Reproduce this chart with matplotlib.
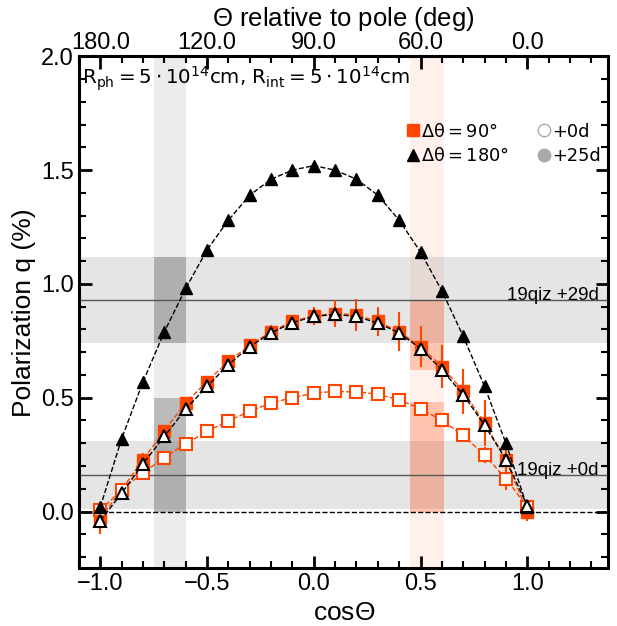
import numpy as np
import matplotlib
matplotlib.use('Agg')
import matplotlib.pyplot as plt
from matplotlib.lines import Line2D
from matplotlib.ticker import MultipleLocator

plt.rcParams['font.family'] = ['Liberation Sans', 'DejaVu Sans']
plt.rcParams['mathtext.fontset'] = 'dejavusans'
plt.rcParams['mathtext.default'] = 'regular'

# Dane
cos_theta = np.round(np.arange(-1.0, 1.01, 0.1), 1)

# dtheta = 180 deg, +25d (triunghiuri pline)
q_180_25 = [0.02, 0.32, 0.57, 0.79, 0.98, 1.15, 1.28, 1.39, 1.46, 1.50, 1.52,
            1.50, 1.46, 1.39, 1.28, 1.14, 0.97, 0.77, 0.55, 0.30, 0.02]
# dtheta = 180 deg, +0d (triunghiuri goale)
q_180_0 = [-0.04, 0.08, 0.21, 0.33, 0.45, 0.55, 0.645, 0.725, 0.785, 0.83, 0.857,
           0.866, 0.857, 0.828, 0.785, 0.716, 0.623, 0.513, 0.38, 0.228, 0.026]
# dtheta = 90 deg, +25d (patrate pline)
q_90_25 = [-0.03, 0.096, 0.228, 0.355, 0.478, 0.571, 0.66, 0.73, 0.79, 0.835, 0.86,
           0.87, 0.864, 0.835, 0.79, 0.725, 0.637, 0.528, 0.389, 0.228, 0.0]
err_90_25 = [0.07, 0.03, 0.03, 0.02, 0.02, 0.02, 0.02, 0.02, 0.03, 0.03, 0.04,
             0.06, 0.07, 0.065, 0.085, 0.09, 0.095, 0.1, 0.1, 0.06, 0.04]
# dtheta = 90 deg, +0d (patrate goale)
q_90_0 = [0.005, 0.096, 0.17, 0.237, 0.298, 0.352, 0.399, 0.44, 0.477, 0.50, 0.52,
          0.528, 0.525, 0.516, 0.49, 0.452, 0.40, 0.335, 0.247, 0.145, 0.02]
err_90_0 = [0.02, 0.02, 0.02, 0.01, 0.01, 0.01, 0.01, 0.01, 0.01, 0.01, 0.01,
            0.01, 0.01, 0.01, 0.01, 0.015, 0.015, 0.03, 0.035, 0.05, 0.03]

# Observatii 19qiz
obs_labels = ['19qiz +0d', '19qiz +29d']
obs_q = [0.16, 0.93]
obs_err = [0.15, 0.19]

# Benzi unghiulare
grey_band = (-0.75, -0.6)
grey_boxes = [(0.74, 1.12), (0.0, 0.5)]
red_band = (0.45, 0.61)
red_boxes = [(0.62, 0.93), (0.0, 0.48)]

top_ticks = [-1.0, -0.5, 0.0, 0.5, 1.0]
top_labels = ['180.0', '120.0', '90.0', '60.0', '0.0']

ORANGE = '#ff4500'

fig = plt.figure(figsize=(6.17, 6.26), dpi=100)
ax = fig.add_axes([0.128, 0.092, 0.858, 0.818])

# Benzi
ax.axvspan(*grey_band, color='grey', alpha=0.15, lw=0, zorder=0)
for lo, hi in grey_boxes:
    ax.fill_between(grey_band, lo, hi, color='grey', alpha=0.45, lw=0, zorder=0.5)
ax.axvspan(*red_band, color=ORANGE, alpha=0.08, lw=0, zorder=0)
for lo, hi in red_boxes:
    ax.fill_between(red_band, lo, hi, color=ORANGE, alpha=0.25, lw=0, zorder=0.5)

for lab, q, e in zip(obs_labels, obs_q, obs_err):
    ax.axhspan(q - e, q + e, color='grey', alpha=0.2, lw=0, zorder=0)
    ax.axhline(q, color='#555555', lw=1.0, zorder=0.6)
    ax.text(1.335, q, lab, ha='right', va='baseline', fontsize=13.5, zorder=5)

ax.axhline(0.0, color='black', ls='--', lw=1.0, zorder=1)

# Serii
ax.errorbar(cos_theta, q_90_25, yerr=err_90_25, fmt='s--', color=ORANGE,
            ms=8, lw=1.0, elinewidth=1.5, mec=ORANGE, mfc=ORANGE, zorder=3)
ax.errorbar(cos_theta, q_90_0, yerr=err_90_0, fmt='s--', color=ORANGE,
            ms=8, lw=1.0, elinewidth=1.5, mec=ORANGE, mfc='white', mew=1.5, zorder=3)
ax.plot(cos_theta, q_180_25, '^--', color='black', ms=8, lw=1.0, zorder=4)
ax.plot(cos_theta, q_180_0, '^--', color='black', ms=9, lw=1.0, mfc='white',
        mec='black', mew=1.5, zorder=4)

ax.text(-1.085, 1.965, r'$R_{ph} = 5\cdot10^{14}$cm, $R_{int} = 5\cdot10^{14}$cm',
        ha='left', va='top', fontsize=14.3, family='DejaVu Sans')

# Legenda
handles = [
    Line2D([], [], ls='none', marker='s', color=ORANGE, ms=9),
    Line2D([], [], ls='none', marker='^', color='black', ms=9),
    Line2D([], [], ls='none', marker='o', mfc='white', mec='#aaaaaa', ms=9),
    Line2D([], [], ls='none', marker='o', mfc='#aaaaaa', mec='#aaaaaa', ms=9),
]
labels = [r'$\Delta\theta = 90°$', r'$\Delta\theta = 180°$', '+0d', '+25d']
ax.legend(handles, labels, ncol=2, loc='upper left', bbox_to_anchor=(0.59, 0.902),
          frameon=False, prop={'family': 'DejaVu Sans', 'size': 12.8},
          handlelength=0.6, handletextpad=0.15, columnspacing=1.7, labelspacing=0.35)

# Axe
ax.set_xlim(-1.1, 1.38)
ax.set_ylim(-0.25, 2.0)
ax.xaxis.set_major_locator(MultipleLocator(0.5))
ax.xaxis.set_minor_locator(MultipleLocator(0.1))
ax.yaxis.set_major_locator(MultipleLocator(0.5))
ax.yaxis.set_minor_locator(MultipleLocator(0.1))
ax.tick_params(which='both', direction='in', right=True, labelsize=17)
ax.tick_params(which='major', length=9, width=2)
ax.tick_params(which='minor', length=5, width=1.5)
ax.set_xlabel(r'cos$\Theta$', fontsize=19)
ax.set_ylabel('Polarization q (%)', fontsize=19)
for s in ax.spines.values():
    s.set_linewidth(2.2)

ax2 = ax.twiny()
ax2.set_xlim(ax.get_xlim())
ax2.set_xticks(top_ticks)
ax2.set_xticklabels(top_labels)
ax2.xaxis.set_minor_locator(MultipleLocator(0.1))
ax2.tick_params(which='both', direction='in', labelsize=17, pad=2)
ax2.tick_params(which='major', length=9, width=2)
ax2.tick_params(which='minor', length=5, width=1.5)
ax2.set_xlabel(r'$\Theta$ relative to pole (deg)', fontsize=18.5, labelpad=4)

fig.savefig('out.png', dpi=100)
